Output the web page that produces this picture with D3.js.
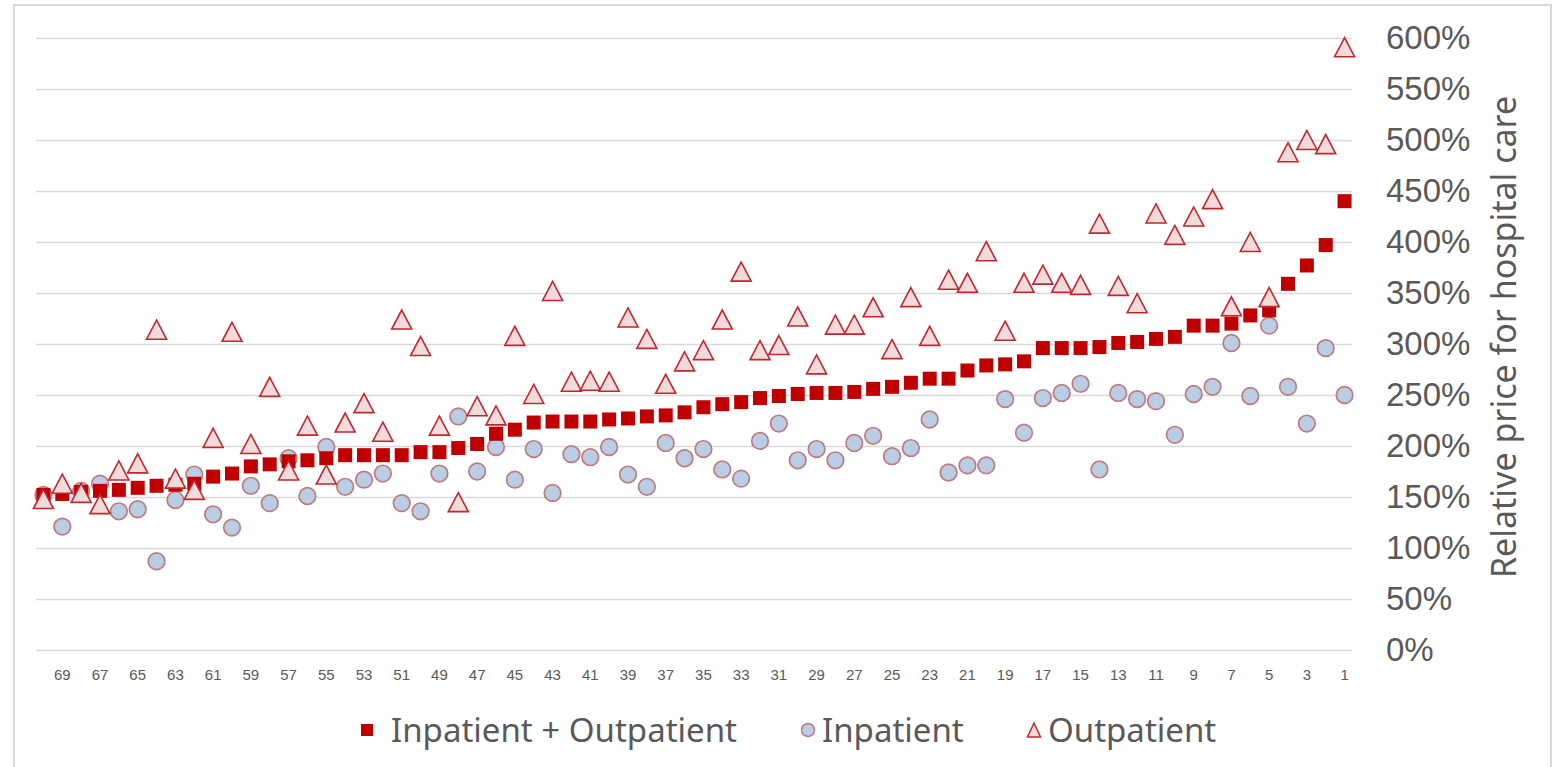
<!DOCTYPE html>
<html>
<head>
<meta charset="utf-8">
<script src="https://cdn.jsdelivr.net/npm/d3@7"></script>
<style>
    body { margin: 0; background: #fff; }
    svg { display: block; font-family: 'Noto Sans', 'Open Sans', sans-serif; }
    .grid line { stroke: #d9d9d9; stroke-width: 1.5; }
    .grid .domain, .grid text { display: none; }
    .xAxis text { fill: #595959; font-size: 15px; }
    .yAxis text { fill: #595959; font-size: 33px; }
    .xAxis .domain, .yAxis .domain { display: none; }
    #yTitle { fill: #595959; font-size: 34px; }
    .legend text { fill: #595959; font-size: 33px; }
</style>
</head>
<body>
<script>
'use strict';

// hospital rank, from 70 (left) to 1 (right)
const categories = [70, 69, 68, 67, 66, 65, 64, 63, 62, 61, 60, 59, 58, 57, 56, 55, 54, 53, 52, 51,
    50, 49, 48, 47, 46, 45, 44, 43, 42, 41, 40, 39, 38, 37, 36, 35, 34, 33, 32, 31,
    30, 29, 28, 27, 26, 25, 24, 23, 22, 21, 20, 19, 18, 17, 16, 15, 14, 13, 12, 11,
    10, 9, 8, 7, 6, 5, 4, 3, 2, 1];

// relative price, % (same order as categories)
const combined = [152, 153, 155, 156, 157, 159, 161, 162, 163, 170, 173, 180, 182, 185, 186, 188, 191, 191, 191, 191,
    194, 194, 198, 202, 212, 216, 223, 224, 224, 224, 226, 227, 229, 230, 233, 238, 241, 243, 247, 249,
    251, 252, 252, 253, 256, 258, 262, 266, 266, 274, 279, 280, 283, 296, 296, 296, 297, 301, 302, 305,
    307, 318, 318, 320, 328, 333, 359, 377, 397, 440];

const inpatient = [152, 121, 156, 163, 136, 138, 87, 147, 172, 133, 120, 161, 144, 188, 151, 199, 160, 167, 173, 144,
    136, 173, 229, 175, 199, 167, 197, 154, 192, 189, 199, 172, 160, 203, 188, 197, 177, 168, 205, 222,
    186, 197, 186, 203, 210, 190, 198, 226, 174, 181, 181, 246, 213, 247, 252, 261, 177, 252, 246, 244,
    211, 251, 258, 301, 249, 318, 258, 222, 296, 250];

const outpatient = [148, 163, 154, 143, 176, 183, 314, 168, 157, 208, 312, 202, 258, 176, 220, 172, 223, 242, 214, 324,
    298, 220, 145, 239, 230, 308, 251, 352, 263, 264, 263, 326, 305, 261, 283, 294, 324, 371, 294, 299,
    327, 280, 319, 319, 336, 295, 346, 308, 363, 360, 391, 313, 360, 368, 360, 358, 418, 357, 340, 428,
    407, 425, 442, 337, 400, 346, 488, 500, 496, 591];

const xTickLabels = [69, 67, 65, 63, 61, 59, 57, 55, 53, 51, 49, 47, 45, 43, 41, 39, 37, 35,
    33, 31, 29, 27, 25, 23, 21, 19, 17, 15, 13, 11, 9, 7, 5, 3, 1];
const yTicks = [0, 50, 100, 150, 200, 250, 300, 350, 400, 450, 500, 550, 600];

const seriesNames = ['Inpatient + Outpatient', 'Inpatient', 'Outpatient'];

(function () {

    const plot = {
        width: 1556,
        height: 767,
        left: 34,
        right: 1354,
        top: 38,
        bottom: 650
    };

    const colors = {
        square: '#c00000',
        circleFill: '#b9cde5',
        circleStroke: '#c27a7c',
        triFill: '#f2dcdb',
        triStroke: '#c4262e'
    };

    function makeScales() {
        return {
            x: d3.scaleBand().domain(categories).range([plot.left, plot.right]),
            y: d3.scaleLinear().domain([0, 600]).range([plot.bottom, plot.top])
        };
    }

    function cx(scales, i) {
        return scales.x(categories[i]) + scales.x.bandwidth() / 2;
    }

    /**
     * Triangle path centred on its bounding box.
     */
    function triPath(w, h) {
        return 'M0,' + (-h / 2) + 'L' + (w / 2) + ',' + (h / 2) + 'L' + (-w / 2) + ',' + (h / 2) + 'Z';
    }

    function appendFrame(svg) {
        svg.append('rect')
            .attr('x', 14)
            .attr('y', 5)
            .attr('width', 1537)
            .attr('height', 800)
            .attr('fill', 'none')
            .attr('stroke', '#d9d9d9')
            .attr('stroke-width', 2);
    }

    function appendGrid(svg, scales) {
        const axis = d3.axisRight(scales.y).tickValues(yTicks).tickSize(1316);
        svg.append('g')
            .attr('class', 'grid')
            .attr('transform', 'translate(36,0)')
            .call(axis);
    }

    function appendAxes(svg, scales) {
        const xAxis = d3.axisBottom(scales.x).tickValues(xTickLabels).tickSize(0).tickPadding(0);
        svg.append('g')
            .attr('class', 'xAxis')
            .attr('transform', 'translate(0,' + (plot.bottom + 19) + ')')
            .call(xAxis);

        const yAxis = d3.axisRight(scales.y).tickValues(yTicks).tickSize(0).tickPadding(0)
            .tickFormat(d => d + '%');
        svg.append('g')
            .attr('class', 'yAxis')
            .attr('transform', 'translate(1386,0)')
            .call(yAxis);
    }

    function appendYTitle(svg) {
        svg.append('text')
            .attr('id', 'yTitle')
            .attr('transform', 'translate(1516,337) rotate(-90)')
            .attr('text-anchor', 'middle')
            .text('Relative price for hospital care');
    }

    function appendInpatient(svg, scales) {
        svg.append('g')
            .selectAll('circle')
            .data(inpatient)
            .join('circle')
            .attr('cx', (d, i) => cx(scales, i))
            .attr('cy', d => scales.y(d))
            .attr('r', 8.3)
            .attr('fill', colors.circleFill)
            .attr('stroke', colors.circleStroke)
            .attr('stroke-width', 1.7);
    }

    function appendCombined(svg, scales) {
        const s = 14;
        svg.append('g')
            .selectAll('rect')
            .data(combined)
            .join('rect')
            .attr('x', (d, i) => cx(scales, i) - s / 2)
            .attr('y', d => scales.y(d) - s / 2)
            .attr('width', s)
            .attr('height', s)
            .attr('fill', colors.square);
    }

    function appendOutpatient(svg, scales) {
        svg.append('g')
            .selectAll('path')
            .data(outpatient)
            .join('path')
            .attr('transform', (d, i) => 'translate(' + cx(scales, i) + ',' + scales.y(d) + ')')
            .attr('d', triPath(20, 19))
            .attr('fill', colors.triFill)
            .attr('stroke', colors.triStroke)
            .attr('stroke-width', 1.6)
            .attr('stroke-linejoin', 'miter');
    }

    function appendLegend(svg) {
        const y = 730;
        const g = svg.append('g').attr('class', 'legend');

        g.append('rect')
            .attr('x', 361).attr('y', y - 6)
            .attr('width', 12).attr('height', 12)
            .attr('fill', colors.square);
        g.append('text').attr('x', 391).attr('y', y + 12).text(seriesNames[0]);

        g.append('circle')
            .attr('cx', 808).attr('cy', y).attr('r', 6.5)
            .attr('fill', colors.circleFill)
            .attr('stroke', colors.circleStroke)
            .attr('stroke-width', 1.5);
        g.append('text').attr('x', 822).attr('y', y + 12).text(seriesNames[1]);

        g.append('path')
            .attr('transform', 'translate(1034,' + y + ')')
            .attr('d', triPath(13, 14))
            .attr('fill', colors.triFill)
            .attr('stroke', colors.triStroke)
            .attr('stroke-width', 1.5);
        g.append('text').attr('x', 1048).attr('y', y + 12).text(seriesNames[2]);
    }

    function draw() {
        const svg = d3.select('body').append('svg')
            .attr('width', plot.width)
            .attr('height', plot.height);
        const scales = makeScales();
        appendFrame(svg);
        appendGrid(svg, scales);
        appendAxes(svg, scales);
        appendYTitle(svg);
        appendInpatient(svg, scales);
        appendCombined(svg, scales);
        appendOutpatient(svg, scales);
        appendLegend(svg);
    }

    window.onload = draw;

})();
</script>
</body>
</html>
